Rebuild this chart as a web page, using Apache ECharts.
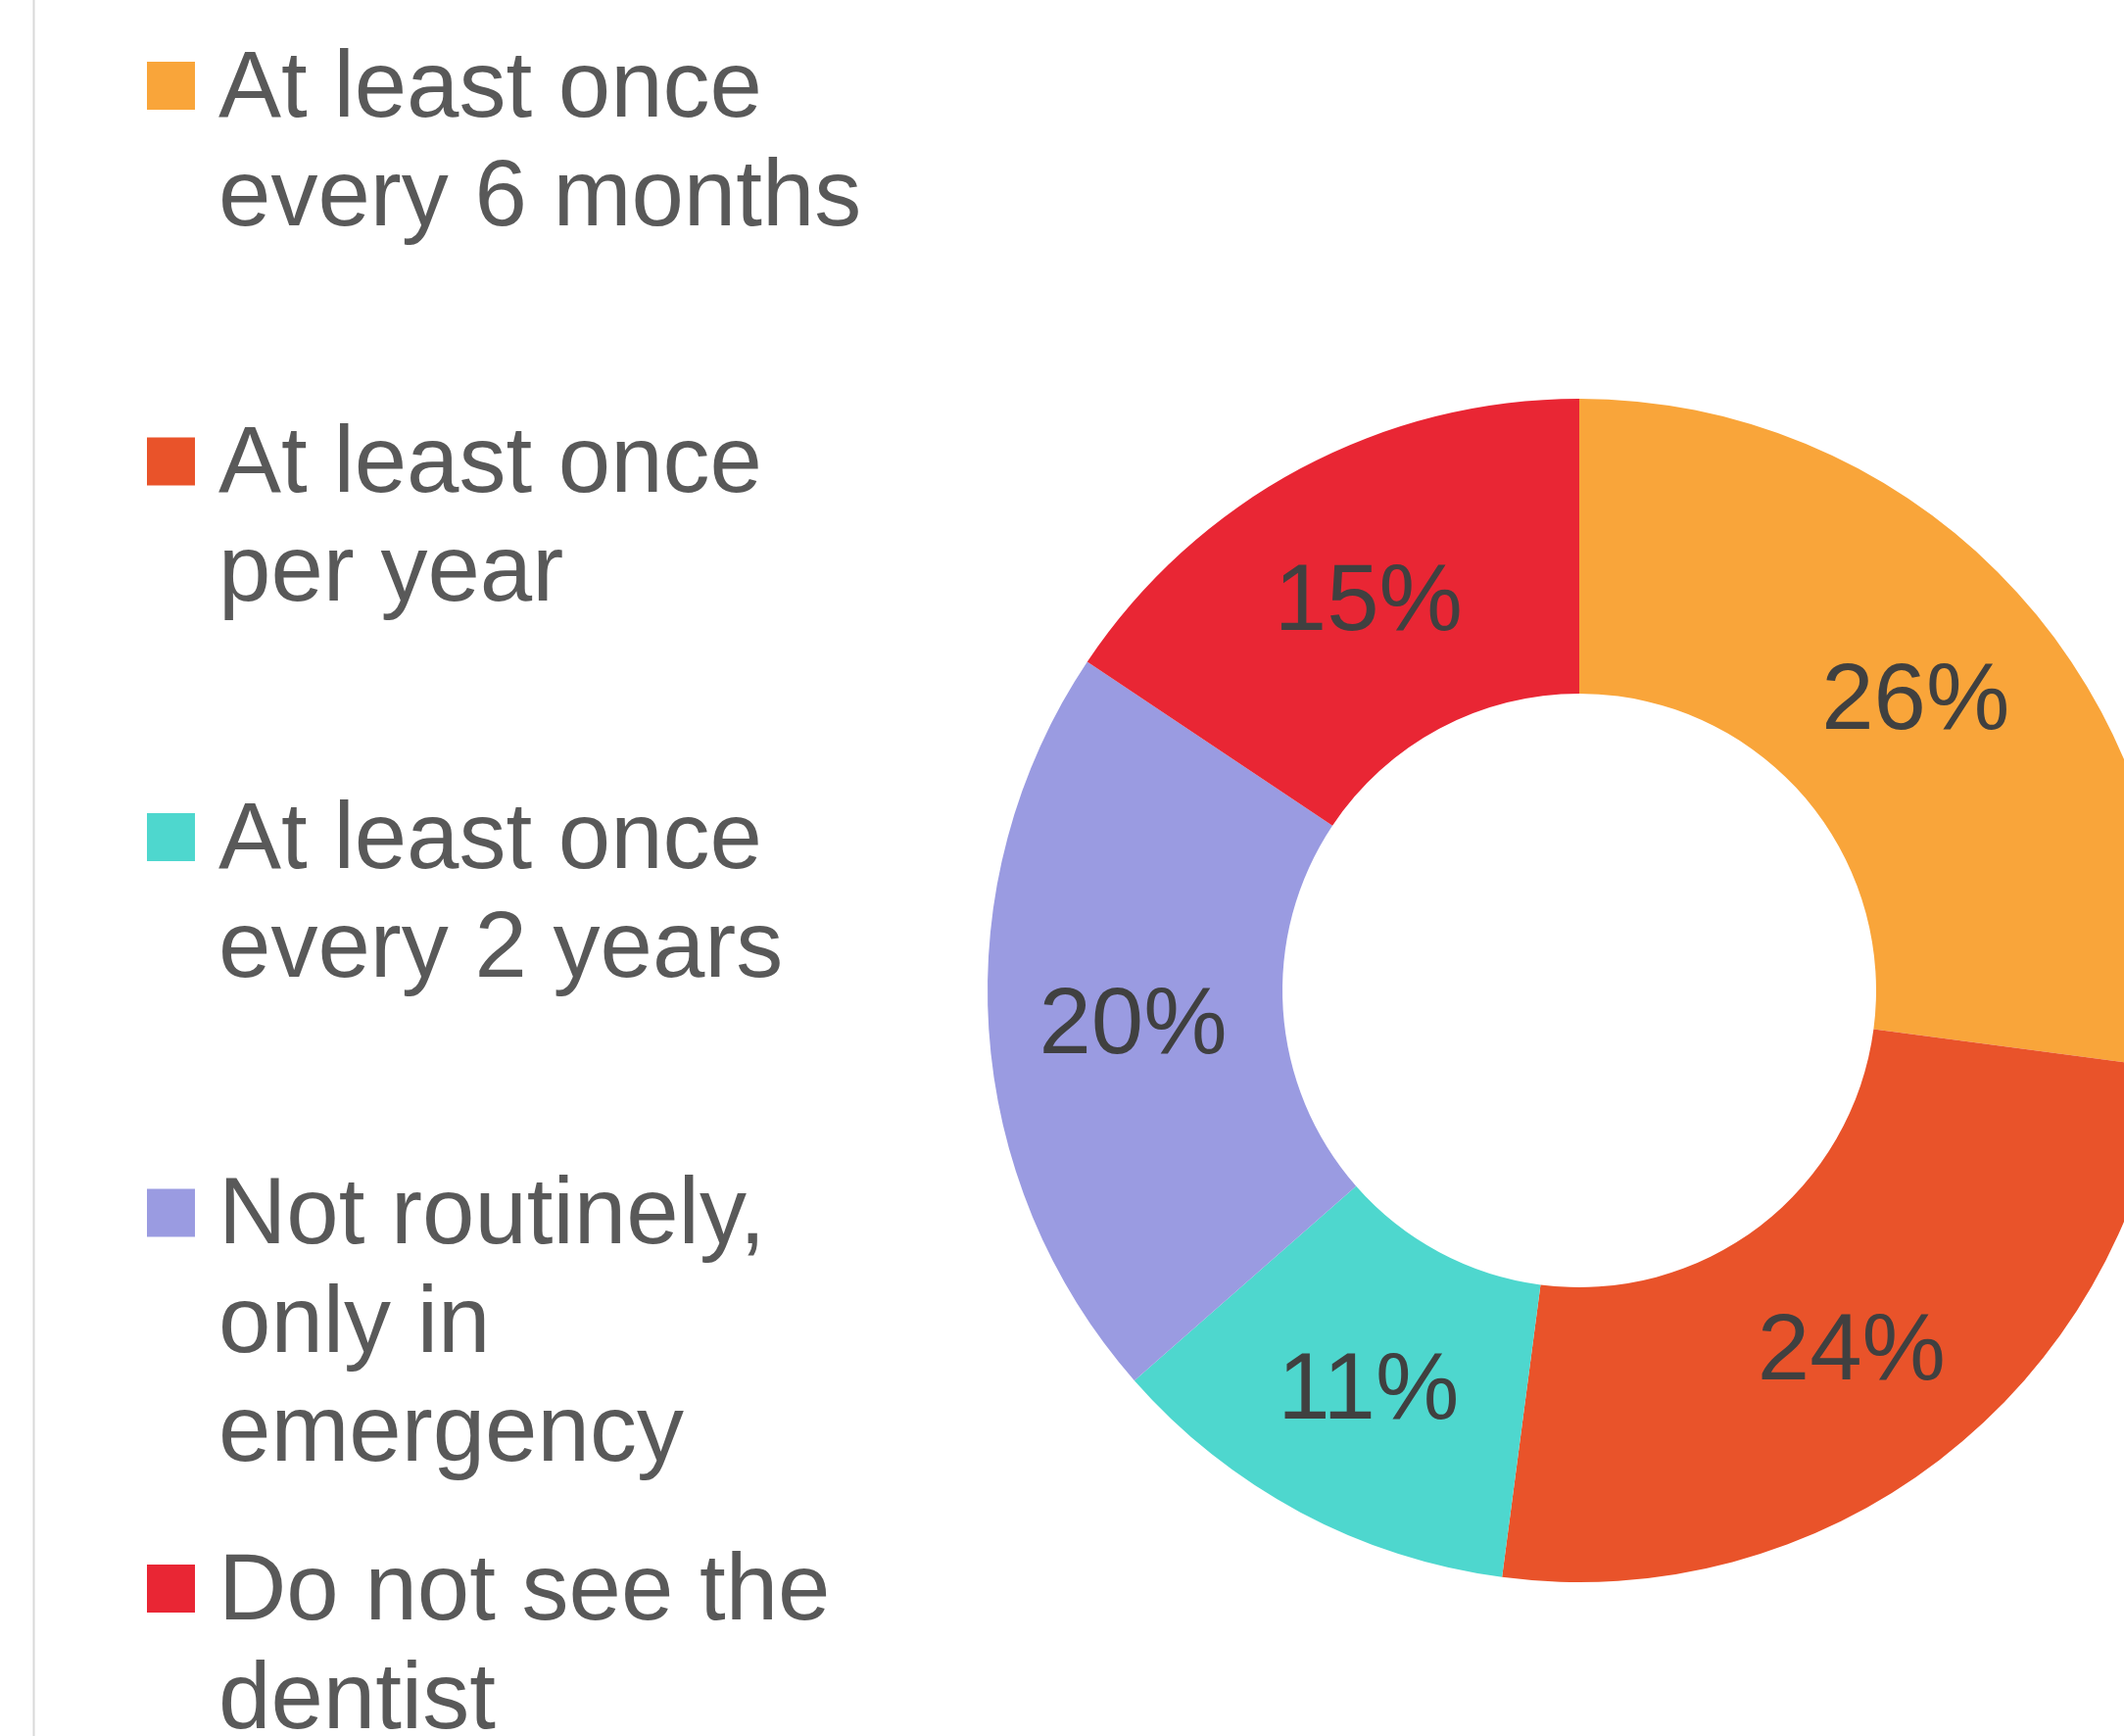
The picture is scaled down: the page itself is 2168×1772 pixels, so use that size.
<!DOCTYPE html>
<html>
<head>
<meta charset="utf-8">
<script src="https://cdn.jsdelivr.net/npm/echarts@6/dist/echarts.min.js"></script>
<style>
  html, body { margin: 0; padding: 0; background: #ffffff; }
  #chart { width: 2168px; height: 1772px; }
</style>
</head>
<body>
<div id="chart"></div>
<script>
// ---- data ----
const categories = [
  'At least once every 6 months',
  'At least once per year',
  'At least once every 2 years',
  'Not routinely, only in emergency',
  'Do not see the dentist'
];
const legendLabels = [
  'At least once\nevery 6 months',
  'At least once\nper year',
  'At least once\nevery 2 years',
  'Not routinely,\nonly in\nemergency',
  'Do not see the\ndentist'
];
const values = [26, 24, 11, 20, 15];

// ---- styles ----
const colors = ['#F9A53A', '#E9532A', '#4ED7CE', '#9A9BE1', '#E92634'];
const FONT = "'Liberation Sans', Arial, sans-serif";
const LH = 111;            // legend line height
const FS = 96;             // font size
const iconSize = 49;
const firstIconCenter = 87.5;
const legendStep = 383.5;
const textDrop = 5;        // first line sits slightly below the icon centre

const chart = echarts.init(document.getElementById('chart'), null, { renderer: 'canvas' });

const legends = categories.map((name, i) => {
  const lines = legendLabels[i].split('\n');
  const n = lines.length;
  const h0 = (n - 1) * LH + 2 * textDrop;
  const boxH = h0 + n * LH;
  const center = firstIconCenter + i * legendStep;
  return {
    data: [name],
    orient: 'vertical',
    left: 150,
    top: center - boxH / 2,
    padding: 0,
    itemWidth: iconSize,
    itemHeight: iconSize,
    icon: 'rect',
    selectedMode: false,
    formatter: () => '{p|\u00a0}\n' + lines.map(s => '{t|' + s + '}').join('\n'),
    textStyle: {
      fontSize: FS,
      lineHeight: LH,
      color: '#595959',
      fontFamily: FONT,
      padding: [0, 0, 0, 19],
      rich: {
        p: { fontSize: FS, lineHeight: h0, fontFamily: FONT },
        t: { fontSize: FS, lineHeight: LH, color: '#595959', fontFamily: FONT }
      }
    }
  };
});

const option = {
  backgroundColor: '#ffffff',
  animation: false,
  color: colors,
  legend: legends,
  graphic: [{
    type: 'line',
    shape: { x1: 34.5, y1: 0, x2: 34.5, y2: 1772 },
    style: { stroke: '#d9d9d9', lineWidth: 2 },
    silent: true
  }],
  series: [{
    type: 'pie',
    center: [1612, 1011],
    radius: [303, 604],
    startAngle: 90,
    clockwise: true,
    avoidLabelOverlap: false,
    itemStyle: { borderWidth: 0 },
    label: {
      show: true,
      position: 'inside',
      formatter: '{c}%',
      fontSize: FS,
      color: '#404040',
      fontFamily: FONT,
      offset: [0, 8]
    },
    labelLine: { show: false },
    emphasis: { disabled: true },
    data: categories.map((name, i) => ({ name: name, value: values[i] }))
  }]
};

chart.setOption(option);
</script>
</body>
</html>
